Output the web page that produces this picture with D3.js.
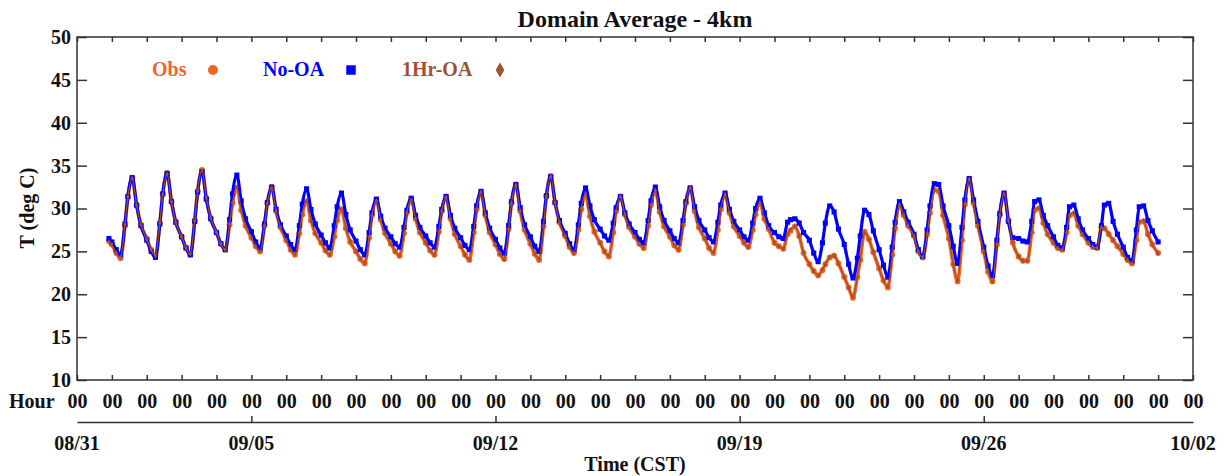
<!DOCTYPE html>
<html>
<head>
<meta charset="utf-8">
<script src="https://cdn.jsdelivr.net/npm/d3@7"></script>
<style>
  body { margin: 0; background: #fff; }
  svg text { font-family: "Liberation Serif", "Times New Roman", serif; font-weight: bold; }
</style>
</head>
<body>
<div id="chart"></div>
<script>
// Sample times: hours since 08/31 00 CST. 08/31 22h, then 8 samples each day 09/01..09/30, then 10/01 00h
const sampleHours = [0, 3, 6, 9, 11, 14, 17, 20];
const hours = [22];
for (let d = 1; d <= 30; d++) sampleHours.forEach(h => hours.push(d * 24 + h));
hours.push(31 * 24);

// No-OA (blue)
const noOA = [26.5,
  26.1, 25.2, 24.6, 28.2, 31.4, 33.6, 30.4, 28.0,
  26.3, 25.0, 24.3, 28.2, 31.7, 34.1, 30.8, 28.4,
  26.7, 25.4, 24.6, 28.5, 31.9, 34.3, 31.1, 28.8,
  27.2, 25.9, 25.2, 28.7, 31.7, 33.9, 30.9, 28.8,
  27.3, 26.1, 25.4, 28.2, 30.7, 32.5, 29.9, 28.1,
  26.8, 25.8, 25.2, 28.0, 30.5, 32.3, 29.9, 28.2,
  26.9, 26.0, 25.4, 28.0, 30.2, 31.8, 29.3, 27.5,
  26.2, 25.2, 24.6, 27.2, 29.5, 31.1, 29.1, 27.7,
  26.7, 25.9, 25.5, 27.8, 29.8, 31.2, 29.2, 27.8,
  26.8, 26.0, 25.5, 27.9, 29.9, 31.4, 29.2, 27.7,
  26.6, 25.7, 25.2, 27.9, 30.3, 32.0, 29.5, 27.7,
  26.4, 25.4, 24.8, 28.0, 30.8, 32.8, 30.1, 28.1,
  26.7, 25.6, 25.0, 28.5, 31.5, 33.7, 30.7, 28.6,
  27.1, 25.9, 25.2, 28.1, 30.6, 32.4, 30.3, 28.7,
  27.6, 26.8, 26.3, 28.3, 30.1, 31.4, 29.5, 28.2,
  27.2, 26.4, 26.0, 28.6, 30.9, 32.5, 30.2, 28.6,
  27.4, 26.5, 26.0, 28.6, 30.8, 32.4, 30.2, 28.6,
  27.5, 26.6, 26.1, 28.4, 30.4, 31.8, 29.9, 28.5,
  27.5, 26.7, 26.3, 28.3, 30.0, 31.2, 29.5, 28.0,
  27.2, 26.7, 26.5, 28.4, 28.7, 28.8, 28.3, 27.2,
  26.3, 24.8, 23.8, 26.0, 28.3, 30.3, 29.6, 27.6,
  25.8, 23.5, 21.9, 24.2, 26.8, 29.8, 29.3, 27.4,
  25.2, 23.4, 22.0, 25.5, 28.4, 30.8, 29.6, 28.4,
  27.0, 25.2, 24.4, 27.5, 30.3, 32.9, 32.8, 30.3,
  28.0, 25.6, 23.6, 27.8, 31.0, 33.5, 31.0, 28.5,
  25.5, 23.3, 22.2, 26.3, 29.4, 31.8, 28.5, 26.6,
  26.5, 26.2, 26.1, 28.5, 30.8, 31.0, 29.2, 28.0,
  26.7, 25.7, 25.4, 27.8, 30.2, 30.4, 28.8, 27.5,
  26.5, 25.8, 25.5, 28.0, 30.4, 30.6, 28.5, 27.0,
  25.5, 24.3, 23.9, 27.5, 30.2, 30.3, 28.6, 27.4,
  26.1];

// Obs (orange)
const obs = [26.2,
  25.8, 24.8, 24.2, 28.0, 31.3, 33.6, 30.4, 28.1,
  26.5, 25.2, 24.5, 28.3, 31.7, 34.1, 30.8, 28.4,
  26.7, 25.4, 24.6, 28.6, 32.0, 34.5, 31.2, 28.9,
  27.2, 25.9, 25.2, 28.1, 30.6, 32.4, 29.8, 28.0,
  26.6, 25.6, 25.0, 28.0, 30.6, 32.5, 29.7, 27.8,
  26.3, 25.2, 24.6, 27.1, 29.3, 30.8, 28.6, 27.1,
  26.0, 25.1, 24.6, 26.7, 28.6, 29.9, 27.7, 26.1,
  25.0, 24.1, 23.6, 26.6, 29.2, 31.0, 28.7, 27.1,
  25.9, 25.0, 24.5, 27.1, 29.5, 31.1, 28.8, 27.2,
  26.0, 25.1, 24.6, 27.3, 29.7, 31.4, 28.8, 27.0,
  25.6, 24.6, 24.0, 27.2, 29.9, 31.9, 29.2, 27.2,
  25.8, 24.7, 24.1, 27.6, 30.6, 32.8, 29.7, 27.5,
  25.9, 24.7, 24.0, 27.9, 31.4, 33.8, 30.7, 28.4,
  26.8, 25.5, 24.8, 27.5, 29.9, 31.6, 29.1, 27.3,
  26.0, 25.0, 24.4, 27.2, 29.7, 31.4, 29.3, 27.8,
  26.7, 25.9, 25.4, 28.0, 30.4, 32.0, 29.6, 27.9,
  26.7, 25.7, 25.2, 28.1, 30.6, 32.4, 29.7, 27.8,
  26.5, 25.4, 24.8, 27.5, 29.9, 31.6, 29.5, 27.9,
  26.8, 26.0, 25.5, 27.5, 29.3, 30.6, 28.8, 27.6,
  26.0, 25.6, 25.3, 27.0, 27.4, 27.9, 26.8, 24.8,
  23.5, 22.7, 22.2, 22.8, 23.5, 24.3, 24.5, 23.6,
  22.0, 20.8, 19.6, 22.0, 24.0, 27.3, 26.4, 24.9,
  23.0, 21.6, 20.8, 24.6, 27.7, 30.4, 29.2, 28.0,
  26.8, 25.0, 24.3, 27.0, 29.5, 32.2, 32.0, 29.2,
  26.5, 23.5, 21.5, 26.3, 30.5, 33.4, 30.6, 28.0,
  25.0, 22.6, 21.5, 25.8, 29.2, 31.7, 28.6, 26.0,
  24.4, 23.9, 23.9, 27.2, 29.8, 30.0, 28.3, 27.0,
  26.0, 25.4, 25.2, 27.2, 29.2, 29.4, 28.0, 27.0,
  26.0, 25.5, 25.4, 27.8, 27.7, 27.0, 26.3, 25.6,
  24.7, 24.0, 23.6, 26.3, 28.4, 28.5, 27.0, 25.8,
  24.8];

// 1Hr-OA (brown)
const oneHrOA = [26.1,
  25.8, 24.8, 24.3, 28.1, 31.3, 33.5, 30.4, 28.1,
  26.4, 25.2, 24.5, 28.3, 31.6, 34.0, 30.8, 28.4,
  26.7, 25.4, 24.7, 28.6, 32.0, 34.4, 31.2, 28.9,
  27.2, 25.9, 25.2, 28.2, 30.7, 32.5, 29.8, 28.0,
  26.6, 25.6, 25.0, 28.0, 30.6, 32.4, 29.7, 27.8,
  26.3, 25.2, 24.7, 27.1, 29.4, 30.9, 28.6, 27.1,
  26.0, 25.1, 24.6, 26.8, 28.7, 29.9, 27.7, 26.2,
  25.0, 24.1, 23.7, 26.6, 29.2, 30.9, 28.7, 27.1,
  25.9, 25.0, 24.5, 27.1, 29.5, 31.0, 28.8, 27.2,
  26.0, 25.1, 24.6, 27.3, 29.7, 31.3, 28.8, 27.0,
  25.6, 24.6, 24.1, 27.2, 29.9, 31.9, 29.2, 27.2,
  25.8, 24.7, 24.1, 27.6, 30.6, 32.7, 29.7, 27.5,
  25.9, 24.8, 24.1, 27.9, 31.4, 33.7, 30.7, 28.4,
  26.8, 25.5, 24.8, 27.5, 30.0, 31.7, 29.1, 27.3,
  26.0, 25.0, 24.5, 27.2, 29.7, 31.4, 29.3, 27.8,
  26.7, 25.9, 25.4, 28.0, 30.4, 32.1, 29.6, 27.9,
  26.7, 25.7, 25.2, 28.1, 30.6, 32.4, 29.7, 27.8,
  26.5, 25.4, 24.9, 27.5, 29.9, 31.6, 29.5, 27.9,
  26.8, 26.0, 25.5, 27.5, 29.3, 30.7, 28.8, 27.6,
  26.0, 25.6, 25.3, 27.0, 27.5, 27.9, 26.8, 24.9,
  23.5, 22.7, 22.2, 22.9, 23.5, 24.3, 24.5, 23.6,
  22.0, 20.8, 19.7, 22.0, 24.0, 27.2, 26.4, 24.9,
  23.0, 21.6, 20.9, 24.6, 27.7, 30.4, 29.2, 28.0,
  26.8, 25.0, 24.3, 27.0, 29.5, 32.1, 32.0, 29.2,
  26.5, 23.5, 21.6, 26.3, 30.5, 33.4, 30.6, 28.0,
  25.0, 22.7, 21.5, 25.8, 29.2, 31.7, 28.6, 26.0,
  24.4, 23.9, 23.9, 27.2, 29.8, 30.1, 28.3, 27.0,
  26.0, 25.4, 25.2, 27.2, 29.2, 29.5, 28.0, 27.0,
  26.0, 25.5, 25.4, 27.8, 27.7, 27.1, 26.3, 25.6,
  24.7, 24.0, 23.6, 26.3, 28.4, 28.6, 27.0, 25.8,
  24.8];

const yTicks = [10, 15, 20, 25, 30, 35, 40, 45, 50];
const dayTicks = d3.range(0, 33);            // 08/31 .. 10/02
const dateLabels = ["08/31", "09/05", "09/12", "09/19", "09/26", "10/02"];
const dateDays = [0, 5, 12, 19, 26, 32];
const majorDays = [5, 12, 19, 26];

const colors = { obs: "#f06522", noOA: "#0000ff", oneHr: "#a0522d" };

const width = 1226, height = 476;
const plot = { left: 77, right: 1193, top: 37, bottom: 380 };

const svg = d3.select("#chart").append("svg")
  .attr("width", width)
  .attr("height", height);

const x = d3.scaleLinear().domain([0, 32 * 24]).range([plot.left, plot.right]);
const y = d3.scaleLinear().domain([10, 50]).range([plot.bottom, plot.top]);

function styleAxis(g) {
  g.attr("font-family", "Liberation Serif, serif")
    .attr("font-size", 20)
    .attr("font-weight", "bold");
  g.selectAll("line").attr("stroke", "#333").attr("stroke-width", 1.5);
  g.selectAll("text").attr("fill", "#111");
}

// Title
svg.append("text")
  .attr("x", 635).attr("y", 27)
  .attr("text-anchor", "middle")
  .style("font-size", "24px")
  .attr("fill", "#111")
  .text("Domain Average - 4km");

// Axes with inward ticks
svg.append("g")
  .attr("transform", `translate(${plot.left},0)`)
  .call(d3.axisLeft(y).tickValues(yTicks).tickSizeInner(-10).tickSizeOuter(0).tickPadding(6))
  .call(g => g.select(".domain").remove())
  .call(styleAxis);

svg.append("g")
  .attr("transform", `translate(${plot.right},0)`)
  .call(d3.axisRight(y).tickValues(yTicks).tickSizeInner(-10).tickSizeOuter(0).tickFormat(""))
  .call(g => g.select(".domain").remove())
  .call(styleAxis);

svg.append("g")
  .attr("transform", `translate(0,${plot.top})`)
  .call(d3.axisTop(x).tickValues(dayTicks.map(d => d * 24)).tickSizeInner(-5).tickSizeOuter(0).tickFormat(""))
  .call(g => g.select(".domain").remove())
  .call(styleAxis);

svg.append("g")
  .attr("transform", `translate(0,${plot.bottom})`)
  .call(d3.axisBottom(x).tickValues(dayTicks.map(d => d * 24)).tickSizeInner(-5).tickSizeOuter(0).tickFormat(""))
  .call(g => g.select(".domain").remove())
  .call(styleAxis);

// Frame
svg.append("rect")
  .attr("x", plot.left).attr("y", plot.top)
  .attr("width", plot.right - plot.left)
  .attr("height", plot.bottom - plot.top)
  .attr("fill", "none")
  .attr("stroke", "#333")
  .attr("stroke-width", 1.5);

// Y label
svg.append("text")
  .attr("transform", `translate(34,208) rotate(-90)`)
  .attr("text-anchor", "middle")
  .style("font-size", "20px")
  .attr("fill", "#111")
  .text("T (deg C)");

// Hour row
svg.append("text")
  .attr("x", 9).attr("y", 408)
  .style("font-size", "20px")
  .attr("fill", "#111")
  .text("Hour");

svg.append("g")
  .attr("transform", "translate(0,394)")
  .call(d3.axisBottom(x).tickValues(dayTicks.map(d => d * 24)).tickSize(0).tickPadding(0).tickFormat(() => "00"))
  .call(g => g.select(".domain").remove())
  .call(styleAxis);

// Date axis
svg.append("g")
  .attr("transform", "translate(0,422)")
  .call(d3.axisBottom(x).tickValues(majorDays.map(d => d * 24)).tickSizeInner(-6).tickSizeOuter(0).tickFormat(""))
  .call(styleAxis)
  .call(g => g.select(".domain").attr("stroke", "#333").attr("stroke-width", 1.5));

svg.selectAll(".date-label")
  .data(dateLabels)
  .enter()
  .append("text")
  .attr("class", "date-label")
  .attr("x", (d, i) => x(dateDays[i] * 24))
  .attr("y", 450)
  .attr("text-anchor", "middle")
  .style("font-size", "20px")
  .attr("fill", "#111")
  .text(d => d);

svg.append("text")
  .attr("x", 635).attr("y", 471)
  .attr("text-anchor", "middle")
  .style("font-size", "20px")
  .attr("fill", "#111")
  .text("Time (CST)");

// Series: Obs drawn first, No-OA, then 1Hr-OA on top (thin)
const series = [
  { name: "Obs", values: obs, color: colors.obs, symbol: d3.symbolCircle, size: 28, lw: 3.6 },
  { name: "No-OA", values: noOA, color: colors.noOA, symbol: d3.symbolSquare, size: 26, lw: 3.2 },
  { name: "1Hr-OA", values: oneHrOA, color: colors.oneHr, symbol: d3.symbolDiamond, size: 9, lw: 1.2 }
];

const line = d3.line()
  .curve(d3.curveMonotoneX)
  .x((d, i) => x(hours[i]))
  .y(d => y(d));

series.forEach(s => {
  svg.append("path")
    .datum(s.values)
    .attr("d", line)
    .attr("fill", "none")
    .attr("stroke", s.color)
    .attr("stroke-width", s.lw)
    .attr("stroke-linejoin", "round");

  svg.append("g")
    .selectAll("path")
    .data(s.values)
    .enter()
    .append("path")
    .attr("transform", (d, i) => `translate(${x(hours[i])},${y(d)})`)
    .attr("d", d3.symbol().type(s.symbol).size(s.size))
    .attr("fill", s.color);
});

// Legend
const legendText = [
  { label: "Obs", x: 152, mx: 213, color: colors.obs, symbol: d3.symbolCircle, size: 80 },
  { label: "No-OA", x: 263, mx: 351, color: colors.noOA, symbol: d3.symbolSquare, size: 90 },
  { label: "1Hr-OA", x: 402, mx: 500, color: colors.oneHr, symbol: d3.symbolDiamond, size: 65 }
];

legendText.forEach(l => {
  svg.append("text")
    .attr("x", l.x).attr("y", 76)
    .style("font-size", "20px")
    .attr("fill", l.color)
    .text(l.label);
  svg.append("path")
    .attr("transform", `translate(${l.mx},70)`)
    .attr("d", d3.symbol().type(l.symbol).size(l.size))
    .attr("fill", l.color);
});
</script>
</body>
</html>
